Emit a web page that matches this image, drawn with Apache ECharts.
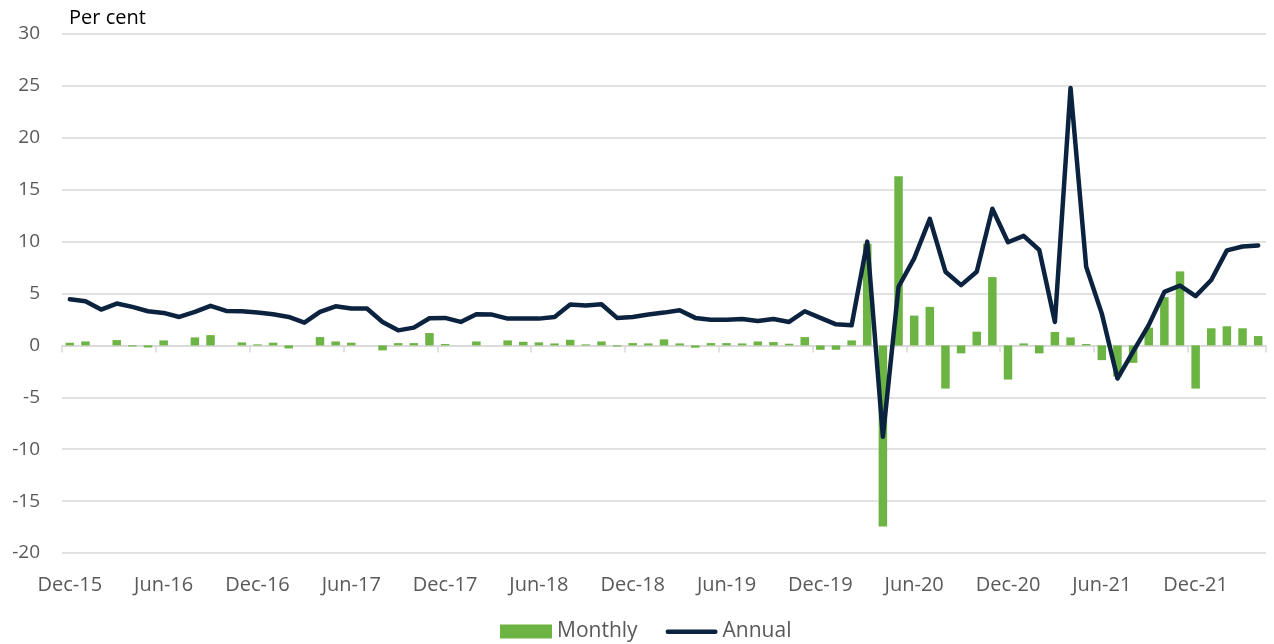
<!DOCTYPE html>
<html>
<head>
<meta charset="utf-8">
<script src="https://cdn.jsdelivr.net/npm/echarts@6/dist/echarts.min.js"></script>
<style>html,body{margin:0;padding:0;background:#fff}#c{width:1274px;height:644px}</style>
</head>
<body>
<div id="c"></div>
<script>
const categories = [
 'Dec-15','Jan-16','Feb-16','Mar-16','Apr-16','May-16','Jun-16','Jul-16','Aug-16','Sep-16','Oct-16','Nov-16',
 'Dec-16','Jan-17','Feb-17','Mar-17','Apr-17','May-17','Jun-17','Jul-17','Aug-17','Sep-17','Oct-17','Nov-17',
 'Dec-17','Jan-18','Feb-18','Mar-18','Apr-18','May-18','Jun-18','Jul-18','Aug-18','Sep-18','Oct-18','Nov-18',
 'Dec-18','Jan-19','Feb-19','Mar-19','Apr-19','May-19','Jun-19','Jul-19','Aug-19','Sep-19','Oct-19','Nov-19',
 'Dec-19','Jan-20','Feb-20','Mar-20','Apr-20','May-20','Jun-20','Jul-20','Aug-20','Sep-20','Oct-20','Nov-20',
 'Dec-20','Jan-21','Feb-21','Mar-21','Apr-21','May-21','Jun-21','Jul-21','Aug-21','Sep-21','Oct-21','Nov-21',
 'Dec-21','Jan-22','Feb-22','Mar-22','Apr-22'
];
const monthly = [
 0.26,0.38,0.0,0.51,-0.1,-0.2,0.48,0.0,0.77,0.99,0.0,0.29,
 0.1,0.26,-0.29,0.0,0.8,0.38,0.26,0.0,-0.48,0.22,0.22,1.19,
 0.13,0.0,0.38,0.0,0.48,0.35,0.29,0.19,0.54,0.1,0.38,-0.1,
 0.22,0.19,0.58,0.19,-0.22,0.22,0.22,0.19,0.38,0.32,0.16,0.8,
 -0.42,-0.42,0.48,9.8,-17.45,16.3,2.87,3.71,-4.16,-0.77,1.32,6.58,
 -3.29,0.19,-0.77,1.29,0.77,0.13,-1.42,-3.0,-1.68,1.71,4.65,7.13,
 -4.16,1.65,1.84,1.65,0.9
];
const annual = [
 4.45,4.26,3.45,4.03,3.71,3.29,3.13,2.74,3.23,3.81,3.32,3.29,
 3.16,3.0,2.74,2.19,3.23,3.77,3.55,3.55,2.26,1.45,1.71,2.62,
 2.65,2.26,3.0,2.97,2.58,2.58,2.58,2.74,3.94,3.84,3.97,2.65,
 2.74,2.97,3.16,3.39,2.65,2.48,2.48,2.55,2.35,2.55,2.26,3.29,
 2.65,2.03,1.94,10.0,-8.8,5.65,8.39,12.19,7.10,5.81,7.10,13.16,
 9.94,10.55,9.19,2.26,24.8,7.58,3.06,-3.19,-0.6,1.95,5.15,5.75,
 4.75,6.3,9.15,9.53,9.63
];
const yTicks = {min: -20, max: 30, step: 5};
const unitLabel = 'Per cent';

const font = '"Open Sans", "Noto Sans", sans-serif';
const chart = echarts.init(document.getElementById('c'), null, {renderer: 'canvas'});
chart.setOption({
  animation: false,
  textStyle: {fontFamily: font},
  title: {
    text: unitLabel, left: 64, top: 3,
    textStyle: {color: '#000', fontSize: 20, fontWeight: 'normal', fontFamily: font}
  },
  legend: {
    bottom: -3, left: 495,
    itemGap: 28, itemWidth: 52, itemHeight: 14,
    textStyle: {color: '#595959', fontSize: 21, fontFamily: font},
    data: [
      {name: 'Monthly', icon: 'rect'},
      {name: 'Annual', icon: 'path://M0,0h0.01v0.01h-0.01z M2,5h48a2,2 0 0 1 0,4.5h-48a2,2 0 0 1 0,-4.5z M51.99,13.99h0.01v0.01h-0.01z'}
    ]
  },
  grid: {left: 62, right: 8, top: 34, bottom: 91, containLabel: false},
  xAxis: [
    {
      type: 'category', data: categories, boundaryGap: true,
      axisLine: {show: true, onZero: true, lineStyle: {color: '#d9d9d9', width: 1.5}},
      axisTick: {show: true, interval: 5, length: 7, lineStyle: {color: '#d9d9d9', width: 1.5}},
      axisLabel: {show: false}
    },
    {
      type: 'category', data: categories, boundaryGap: true, position: 'bottom',
      axisLine: {show: false, onZero: false},
      axisTick: {show: false},
      axisLabel: {show: true, interval: 5, color: '#595959', fontSize: 20, margin: 22, fontFamily: font}
    }
  ],
  yAxis: {
    type: 'value', min: yTicks.min, max: yTicks.max, interval: yTicks.step,
    axisLine: {show: false}, axisTick: {show: false},
    axisLabel: {color: '#595959', fontSize: 19, margin: 22, fontFamily: font},
    splitLine: {lineStyle: {color: '#d9d9d9', width: 1.5}}
  },
  series: [
    {
      name: 'Monthly', type: 'bar', data: monthly, xAxisIndex: 0,
      barWidth: 8.5,
      itemStyle: {color: '#6cb443'}
    },
    {
      name: 'Annual', type: 'line', data: annual, xAxisIndex: 0,
      symbol: 'none', showSymbol: false,
      lineStyle: {color: '#0c2340', width: 4.5, join: 'round', cap: 'round'},
      itemStyle: {color: '#0c2340'}
    }
  ]
});
</script>
</body>
</html>
